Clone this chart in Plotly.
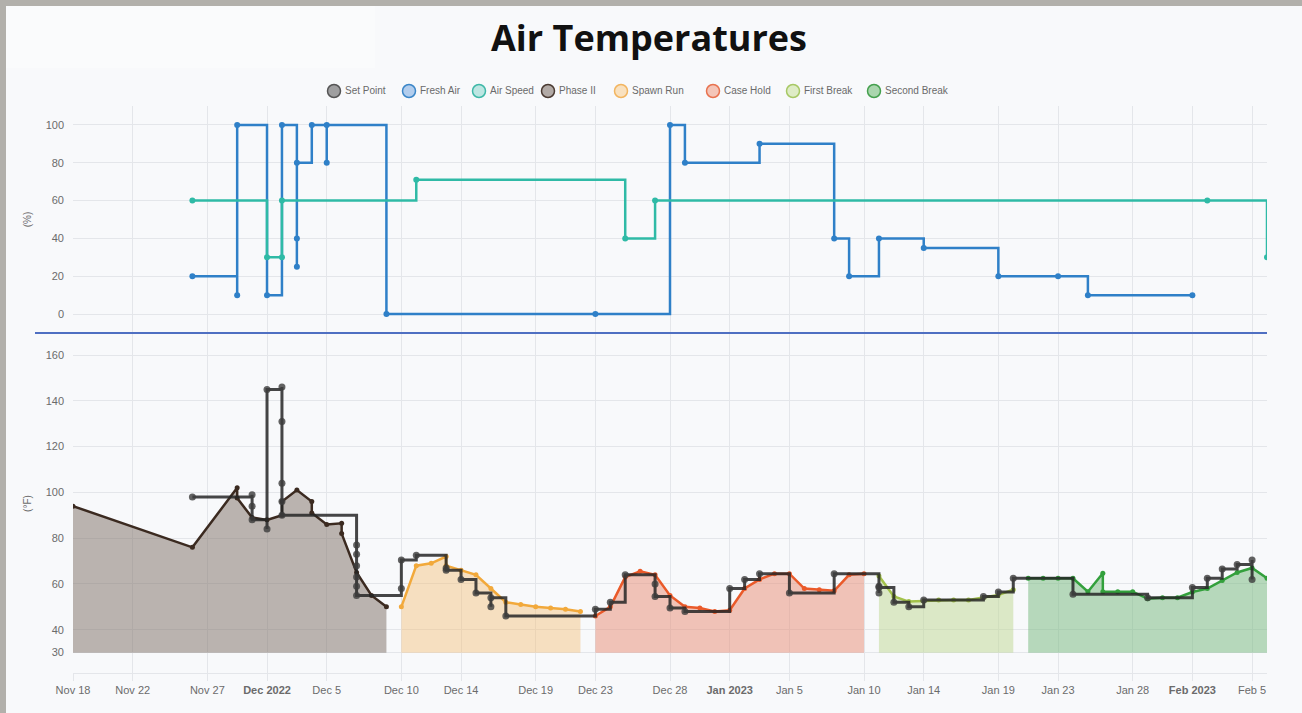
import plotly.graph_objects as go

TITLE = "Air Temperatures"

# ---------------- top panel (%) ----------------
fresh_air_dates = ["2022-11-26", "2022-11-29", "2022-11-29", "2022-12-01", "2022-12-02",
                   "2022-12-03", "2022-12-03", "2022-12-03", "2022-12-04", "2022-12-05",
                   "2022-12-05", "2022-12-09", "2022-12-23", "2022-12-28", "2022-12-29",
                   "2023-01-03", "2023-01-08", "2023-01-09", "2023-01-11", "2023-01-14",
                   "2023-01-19", "2023-01-23", "2023-01-25", "2023-02-01"]
fresh_air_values = [20, 10, 100, 10, 100, 25, 40, 80, 100, 80, 100, 0, 0, 100, 80,
                    90, 40, 20, 40, 35, 20, 20, 10, 10]

air_speed_dates = ["2022-11-26", "2022-12-01", "2022-12-02", "2022-12-02", "2022-12-11",
                   "2022-12-25", "2022-12-27", "2023-02-02", "2023-02-06"]
air_speed_values = [60, 30, 30, 60, 71, 40, 60, 60, 30]

# ---------------- bottom panel (°F) ----------------
set_point_dates = ["2022-11-26", "2022-11-30", "2022-11-30", "2022-11-30", "2022-12-01", "2022-12-01",
                   "2022-12-02", "2022-12-02", "2022-12-02", "2022-12-02", "2022-12-02",
                   "2022-12-07", "2022-12-07", "2022-12-07", "2022-12-07", "2022-12-07", "2022-12-07",
                   "2022-12-10", "2022-12-10", "2022-12-11", "2022-12-13", "2022-12-13",
                   "2022-12-14", "2022-12-15", "2022-12-16", "2022-12-16", "2022-12-17",
                   "2022-12-23", "2022-12-24", "2022-12-25", "2022-12-27", "2022-12-27",
                   "2022-12-28", "2022-12-29", "2023-01-01", "2023-01-02", "2023-01-03",
                   "2023-01-05", "2023-01-08", "2023-01-11", "2023-01-11", "2023-01-11",
                   "2023-01-12", "2023-01-13", "2023-01-14", "2023-01-18", "2023-01-19",
                   "2023-01-20", "2023-01-24", "2023-01-29", "2023-02-01", "2023-02-02",
                   "2023-02-03", "2023-02-04", "2023-02-05", "2023-02-05"]
set_point_values = [98, 99, 94, 88, 84, 145,
                    146, 131, 104, 96, 90,
                    77, 73, 68, 63, 59, 55,
                    58, 70.5, 72.5, 67, 66,
                    62, 56, 50, 54, 46,
                    49, 52, 64, 60, 54.5,
                    49.5, 48, 58, 62, 64.5,
                    56, 64.5, 59, 56, 58.5,
                    52, 50, 53, 54.5, 56.5,
                    62.5, 55.5, 54, 58.5, 62.5,
                    66.5, 68.5, 70.5, 62]

phase2_dates = ["2022-11-18", "2022-11-26", "2022-11-29", "2022-11-29", "2022-11-30",
                "2022-12-01", "2022-12-02", "2022-12-02", "2022-12-03", "2022-12-04",
                "2022-12-04", "2022-12-05", "2022-12-06", "2022-12-06", "2022-12-07",
                "2022-12-08", "2022-12-09"]
phase2_values = [94, 76, 102, 97.5, 89, 88, 90, 96, 101, 96, 91, 86, 86.5, 82, 65, 55, 50]

spawn_run_dates = ["2022-12-10", "2022-12-11", "2022-12-12", "2022-12-13", "2022-12-13",
                   "2022-12-14", "2022-12-15", "2022-12-16", "2022-12-17", "2022-12-18",
                   "2022-12-19", "2022-12-20", "2022-12-21", "2022-12-22"]
spawn_run_values = [50, 68, 69, 72, 68, 66, 64, 58, 52, 51, 50, 49.5, 49, 48]

case_hold_dates = ["2022-12-23", "2022-12-24", "2022-12-25", "2022-12-26", "2022-12-27",
                   "2022-12-28", "2022-12-29", "2022-12-30", "2022-12-31", "2023-01-01",
                   "2023-01-02", "2023-01-03", "2023-01-04", "2023-01-05", "2023-01-06",
                   "2023-01-07", "2023-01-08", "2023-01-09", "2023-01-10"]
case_hold_values = [46, 50, 63, 65.5, 64, 55, 50, 49.5, 48, 48.5, 58, 62, 64.5, 64.5,
                    58, 57.5, 57, 64, 64.5]

first_break_dates = ["2023-01-11", "2023-01-12", "2023-01-13", "2023-01-14", "2023-01-15",
                     "2023-01-16", "2023-01-17", "2023-01-18", "2023-01-19", "2023-01-20"]
first_break_values = [63.5, 54.5, 52.3, 52.6, 53, 53, 53, 54, 55.2, 57.5]

second_break_dates = ["2023-01-21", "2023-01-22", "2023-01-23", "2023-01-24", "2023-01-25",
                      "2023-01-26", "2023-01-26", "2023-01-27", "2023-01-28", "2023-01-29",
                      "2023-01-30", "2023-01-31", "2023-02-01", "2023-02-02", "2023-02-03",
                      "2023-02-04", "2023-02-05", "2023-02-06"]
second_break_values = [62.5, 62.5, 62.5, 62.5, 56.6, 64.7, 56.6, 56.6, 56.6, 53.5,
                       54, 54, 56.5, 58, 61.5, 65, 67, 62.5]

FILL_BASE = 30

legend_labels = ["Set Point", "Fresh Air", "Air Speed", "Phase II", "Spawn Run",
                 "Case Hold", "First Break", "Second Break"]

x_tick_vals = ["2022-11-18", "2022-11-22", "2022-11-27", "2022-12-01", "2022-12-05",
               "2022-12-10", "2022-12-14", "2022-12-19", "2022-12-23", "2022-12-28",
               "2023-01-01", "2023-01-05", "2023-01-10", "2023-01-14", "2023-01-19",
               "2023-01-23", "2023-01-28", "2023-02-01", "2023-02-05"]
x_tick_text = ["Nov 18", "Nov 22", "Nov 27", "<b>Dec 2022</b>", "Dec 5", "Dec 10", "Dec 14",
               "Dec 19", "Dec 23", "Dec 28", "<b>Jan 2023</b>", "Jan 5", "Jan 10", "Jan 14",
               "Jan 19", "Jan 23", "Jan 28", "<b>Feb 2023</b>", "Feb 5"]
pct_ticks = [0, 20, 40, 60, 80, 100]
temp_ticks = [30, 40, 60, 80, 100, 120, 140, 160]

# ---------------- styling ----------------
BG = "#f8f9fb"
GRID = "#e4e6ea"
FONT = "Liberation Sans, Arial, sans-serif"
TICK_FONT = dict(family=FONT, size=11, color="#6b6b6b")

# pixel -> paper helpers (layout: plot area 73..1267 x, 106..673 y)
L, R, T, B = 73, 1267, 106, 673
def px(x):
    return (x - L) / (R - L)
def py(y):
    return (B - y) / (B - T)

fig = go.Figure()

# top panel
fig.add_trace(go.Scatter(x=fresh_air_dates, y=fresh_air_values, mode="lines+markers",
                         line=dict(shape="hv", color="#2f80c8", width=2.5),
                         marker=dict(size=6, color="#2f80c8"),
                         xaxis="x2", yaxis="y2", name="Fresh Air"))
fig.add_trace(go.Scatter(x=air_speed_dates, y=air_speed_values, mode="lines+markers",
                         line=dict(shape="hv", color="#2fbaa6", width=2.5),
                         marker=dict(size=6, color="#2fbaa6"),
                         xaxis="x2", yaxis="y2", name="Air Speed"))

# bottom panel phases (filled down to FILL_BASE)
phases = [
    ("Phase II", phase2_dates, phase2_values, "#3b2a20", "rgba(124,110,100,0.5)"),
    ("Spawn Run", spawn_run_dates, spawn_run_values, "#f2a93b", "rgba(245,190,120,0.45)"),
    ("Case Hold", case_hold_dates, case_hold_values, "#ea5a2a", "rgba(232,140,115,0.5)"),
    ("First Break", first_break_dates, first_break_values, "#a3c24a", "rgba(190,215,145,0.5)"),
    ("Second Break", second_break_dates, second_break_values, "#33a03c", "rgba(116,184,124,0.5)"),
]
for name, d, v, linec, fillc in phases:
    fig.add_trace(go.Scatter(x=d, y=[FILL_BASE] * len(d), mode="lines",
                             line=dict(width=0, color=fillc),
                             hoverinfo="skip", xaxis="x", yaxis="y", name=name + " base"))
    fig.add_trace(go.Scatter(x=d, y=v, mode="lines+markers", name=name,
                             line=dict(color=linec, width=2.5),
                             marker=dict(size=5, color=linec),
                             fill="tonexty", fillcolor=fillc,
                             xaxis="x", yaxis="y"))

fig.add_trace(go.Scatter(x=set_point_dates, y=set_point_values, mode="lines+markers",
                         name="Set Point",
                         line=dict(shape="hv", color="rgba(38,38,38,0.85)", width=3),
                         marker=dict(size=7, color="rgba(60,60,60,0.8)"),
                         xaxis="x", yaxis="y"))

# Chart.js-style legend (circle + label), drawn as shapes and text annotations
legend_style = [
    ("rgba(110,110,110,0.65)", "#555555"),
    ("rgba(120,170,225,0.55)", "#3b86c8"),
    ("rgba(140,215,205,0.55)", "#3fb8a8"),
    ("rgba(140,128,120,0.65)", "#4a3a32"),
    ("rgba(250,215,165,0.7)", "#f2b560"),
    ("rgba(242,175,155,0.7)", "#e8724f"),
    ("rgba(215,232,185,0.8)", "#a7c865"),
    ("rgba(150,205,155,0.8)", "#45a04e"),
]
legend_centers_px = [334, 409, 479, 548, 621, 713, 793, 874]
LEG_Y = 91
legend_shapes, legend_annos = [], []
for label, (fillc, linec), cx in zip(legend_labels, legend_style, legend_centers_px):
    legend_shapes.append(dict(type="circle", xref="paper", yref="paper",
                              xsizemode="pixel", ysizemode="pixel",
                              xanchor=px(cx), yanchor=py(LEG_Y),
                              x0=-6.5, x1=6.5, y0=-6.5, y1=6.5,
                              fillcolor=fillc, line=dict(color=linec, width=1.5)))
    legend_annos.append(dict(text=label, xref="paper", yref="paper", x=px(cx + 9),
                             y=py(LEG_Y), xanchor="left", yanchor="middle", showarrow=False,
                             font=dict(family=FONT, size=10, color="#6a6a6a")))

x_range = ["2022-11-18", "2023-02-06"]
top_dom = [py(333), 1.0]
bot_dom = [0.0, py(334)]

fig.update_layout(
    width=1302, height=713,
    margin=dict(l=L, r=1302 - R, t=T, b=713 - B, autoexpand=False),
    paper_bgcolor=BG, plot_bgcolor=BG,
    showlegend=False,
    title=dict(text="<b>" + TITLE + "</b>", x=649 / 1302, xref="container", xanchor="center",
               y=1 - 38 / 713, yref="container", yanchor="middle",
               font=dict(family="Open Sans, sans-serif", size=36, color="#111111")),
    xaxis=dict(domain=[0, 1], anchor="y", type="date", range=x_range,
               tickmode="array", tickvals=x_tick_vals, ticktext=x_tick_text,
               tickfont=TICK_FONT, showgrid=True, gridcolor=GRID, gridwidth=1,
               ticks="outside", ticklen=7, tickcolor=GRID,
               showline=True, linecolor=GRID, zeroline=False),
    xaxis2=dict(domain=[0, 1], anchor="y2", type="date", range=x_range, matches="x",
                tickmode="array", tickvals=x_tick_vals, showticklabels=False,
                showgrid=True, gridcolor=GRID, gridwidth=1, ticks="", zeroline=False),
    yaxis=dict(domain=bot_dom, anchor="x", range=[21.1, 169.2],
               tickmode="array", tickvals=temp_ticks, tickfont=TICK_FONT,
               showgrid=True, gridcolor=GRID, zeroline=False, ticklabelstandoff=8,
               title=dict(text="(°F)", font=dict(family=FONT, size=10, color="#6b6b6b"),
                          standoff=12)),
    yaxis2=dict(domain=top_dom, anchor="x2", range=[-10, 110],
                tickmode="array", tickvals=pct_ticks, tickfont=TICK_FONT,
                showgrid=True, gridcolor=GRID, zeroline=False, ticklabelstandoff=8,
                title=dict(text="(%)", font=dict(family=FONT, size=10, color="#6b6b6b"),
                           standoff=12)),
    annotations=legend_annos,
    shapes=[
        # lighter box top-left
        dict(type="rect", xref="paper", yref="paper", x0=px(6), x1=px(375), y0=py(68), y1=py(6),
             fillcolor="rgba(255,255,255,0.3)", line=dict(width=0), layer="below"),
        # separator line between panels
        dict(type="line", xref="paper", yref="paper", x0=px(35), x1=1.0, y0=py(333), y1=py(333),
             line=dict(color="#4f6fc2", width=2)),
        # photo frame edges
        dict(type="rect", xref="paper", yref="paper", x0=px(0), x1=px(6), y0=py(713), y1=py(0),
             fillcolor="#b2b0ab", line=dict(width=0)),
        dict(type="rect", xref="paper", yref="paper", x0=px(0), x1=px(1302), y0=py(6), y1=py(0),
             fillcolor="#b2b0ab", line=dict(width=0)),
    ] + legend_shapes,
)

fig.write_html("out.html", config={"displayModeBar": False},
               post_script="document.body.style.margin='0';")
